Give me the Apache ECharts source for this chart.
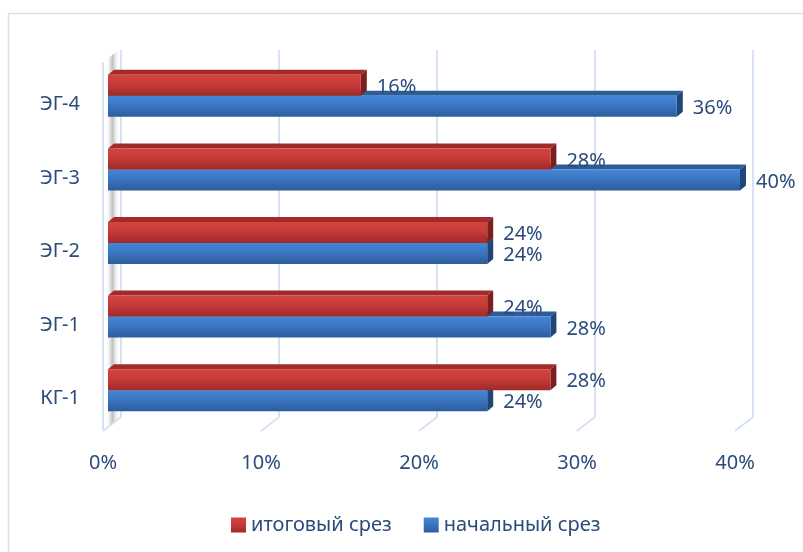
<!doctype html>
<html>
<head>
    <meta charset="utf-8">
    <title>срез</title>
    <script src="https://cdn.jsdelivr.net/npm/echarts@6/dist/echarts.min.js"></script>
</head>
<body style="margin:0;padding:0;background:#fff">
    <div id="tb" style="width:803px;height:552px"></div>
    <script>
        // данные диаграммы
        var categories = ['КГ-1', 'ЭГ-1', 'ЭГ-2', 'ЭГ-3', 'ЭГ-4'];
        var finalCut = [28, 24, 24, 28, 16];   // итоговый срез
        var startCut = [24, 28, 24, 40, 36];   // начальный срез
        var xTicks = [0, 10, 20, 30, 40];

        var textColor = '#2B4B7C';
        var font = 'Noto Sans';
        var BAR_H = 21, D = 6, E = 5;

        var chart = echarts.init(document.getElementById('tb'));

        function grad(c1, c2, c3) {
            return new echarts.graphic.LinearGradient(0, 0, 0, 1, [
                { offset: 0, color: c1 },
                { offset: 0.45, color: c2 },
                { offset: 1, color: c3 }
            ]);
        }

        // 3D-брусок: передняя грань, верх и торец
        function makeRender(front, topC, sideC, shift) {
            return function (params, api) {
                var v = api.value(0), ci = api.value(1);
                var p0 = api.coord([0, ci]);
                var p1 = api.coord([v, ci]);
                var x0 = p0[0], x1 = p1[0];
                var y0 = p0[1] + shift * BAR_H;
                var h = BAR_H;
                return {
                    type: 'group',
                    children: [{
                        type: 'polygon',
                        shape: { points: [[x0, y0], [x0 + D, y0 - E], [x1 + D, y0 - E], [x1, y0]] },
                        style: { fill: topC }
                    }, {
                        type: 'polygon',
                        shape: { points: [[x1, y0], [x1 + D, y0 - E], [x1 + D, y0 + h - E], [x1, y0 + h]] },
                        style: { fill: sideC }
                    }, {
                        type: 'rect',
                        shape: { x: x0, y: y0, width: x1 - x0, height: h },
                        style: { fill: front }
                    }, {
                        type: 'text',
                        x: x1 + 16,
                        y: y0 + h / 2 + 2,
                        style: {
                            text: v + '%',
                            fill: textColor,
                            font: '20px "' + font + '"',
                            verticalAlign: 'middle',
                            align: 'left'
                        },
                        z2: 10
                    }]
                };
            };
        }

        var redFront = grad('#D4443F', '#C63B38', '#9F2A29');
        var blueFront = grad('#4586D6', '#3A76C2', '#2D5C9C');

        chart.setOption({
            animation: false,
            grid: [
                { left: 108, right: 63, top: 59, height: 368 },
                { left: 121, right: 50, top: 50, height: 367 }
            ],
            legend: {
                data: ['итоговый срез', 'начальный срез'],
                top: 510,
                left: 226,
                icon: 'rect',
                itemWidth: 15,
                itemHeight: 15,
                itemGap: 32,
                textStyle: { fontSize: 20, color: textColor, fontFamily: font }
            },
            xAxis: [{
                gridIndex: 0,
                type: 'value',
                min: 0,
                max: 40,
                interval: 10,
                axisLine: { show: false },
                axisTick: { show: false },
                splitLine: { show: false },
                axisLabel: {
                    margin: 26,
                    padding: [0, 10, 0, 0],
                    formatter: '{value}%',
                    fontSize: 20,
                    color: textColor,
                    fontFamily: font
                }
            }, {
                gridIndex: 1,
                type: 'value',
                min: 0,
                max: 40,
                interval: 10,
                axisLine: { show: false },
                axisTick: { show: false },
                axisLabel: { show: false },
                splitLine: { lineStyle: { color: '#D6E2F3', width: 2 } }
            }],
            yAxis: [{
                gridIndex: 0,
                type: 'category',
                data: categories,
                axisLine: { show: false },
                axisTick: { show: false },
                axisLabel: {
                    margin: 28,
                    verticalAlign: 'top',
                    lineHeight: 17,
                    fontSize: 20,
                    color: textColor,
                    fontFamily: font
                }
            }, {
                gridIndex: 1,
                type: 'value',
                show: false
            }],
            series: [{
                name: 'начальный срез',
                type: 'custom',
                xAxisIndex: 0,
                yAxisIndex: 0,
                itemStyle: { color: blueFront },
                encode: { x: 0, y: 1 },
                data: startCut.map(function (v, i) { return [v, i]; }),
                renderItem: makeRender(blueFront, '#2C5D9B', '#1F4677', 0)
            }, {
                name: 'итоговый срез',
                type: 'custom',
                xAxisIndex: 0,
                yAxisIndex: 0,
                itemStyle: { color: redFront },
                encode: { x: 0, y: 1 },
                data: finalCut.map(function (v, i) { return [v, i]; }),
                renderItem: makeRender(redFront, '#A22B2A', '#7C1F1F', -1)
            }]
        });

        // рамка, стенка и "пол" объемной диаграммы
        var floorY = 417, dx = 18, dy = 14;
        var gfx = [{
            type: 'rect',
            shape: { x: 8.5, y: 13.5, width: 900, height: 700 },
            style: { fill: null, stroke: '#D5E1F0', lineWidth: 1.5 },
            silent: true
        }, {
            type: 'polygon',
            shape: { points: [[106, 430], [106, 60], [120, 49], [120, 417]] },
            style: {
                fill: new echarts.graphic.LinearGradient(0, 0, 1, 0, [
                    { offset: 0, color: 'rgba(255,255,255,0)' },
                    { offset: 0.45, color: 'rgba(90,90,90,0.4)' },
                    { offset: 1, color: 'rgba(255,255,255,0)' }
                ])
            },
            silent: true
        }, {
            type: 'line',
            shape: { x1: 103, y1: 62, x2: 103, y2: 430 },
            style: { stroke: '#D6E2F3', lineWidth: 2 },
            silent: true
        }];
        xTicks.forEach(function (t) {
            var x = chart.convertToPixel({ xAxisIndex: 1 }, t);
            gfx.push({
                type: 'line',
                shape: { x1: x, y1: floorY, x2: x - dx, y2: floorY + dy },
                style: { stroke: '#D6E2F3', lineWidth: 2 },
                silent: true
            });
        });
        chart.setOption({ graphic: gfx });
    </script>
</body>
</html>
